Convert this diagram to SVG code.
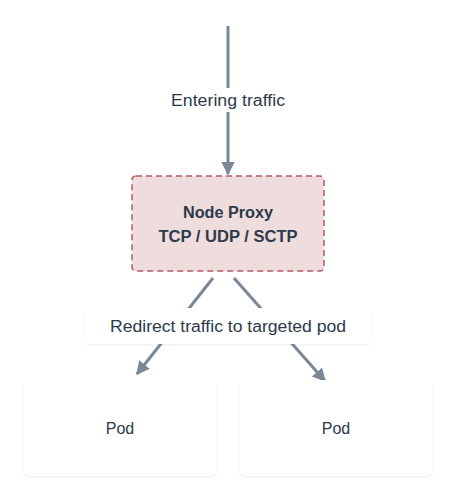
<svg xmlns="http://www.w3.org/2000/svg" width="456" height="500" viewBox="0 0 456 500">
<defs>
<marker id="arr" viewBox="0 0 10 10" refX="9" refY="5" markerWidth="4.5" markerHeight="4.5" orient="auto" markerUnits="strokeWidth">
<path d="M0,0 L10,5 L0,10 z" fill="#7a8794"/>
</marker>
<filter id="sh" x="-10%" y="-20%" width="120%" height="140%">
<feDropShadow dx="0" dy="1" stdDeviation="1.2" flood-color="#000" flood-opacity="0.07"/>
</filter>
</defs>
<style>
.t{font-family:"Liberation Sans","DejaVu Sans",sans-serif;fill:#2c3a4a;text-anchor:middle;font-size:16px}
.b{font-weight:bold}
.ln{stroke:#7a8794;stroke-width:3;fill:none}
.card{fill:#ffffff;filter:url(#sh)}
</style>
<rect width="456" height="500" fill="#ffffff"/>
<g id="connectors">
<line class="ln" x1="228" y1="26" x2="228" y2="88"/>
<line class="ln" x1="228" y1="112" x2="228" y2="174" marker-end="url(#arr)"/>
<line class="ln" x1="213" y1="278" x2="137" y2="374" marker-end="url(#arr)"/>
<line class="ln" x1="234" y1="278" x2="325" y2="381" marker-end="url(#arr)"/>
</g>
<g id="label-entering">
<text class="t" x="228" y="106" textLength="114" lengthAdjust="spacingAndGlyphs">Entering traffic</text>
</g>
<g id="node-proxy">
<rect x="132" y="176" width="192" height="95" rx="4" fill="#efdcdc" stroke="#b35b5b" stroke-width="1.5" stroke-dasharray="6,4"/>
<text class="t b" x="228" y="218" textLength="90" lengthAdjust="spacingAndGlyphs">Node Proxy</text>
<text class="t b" x="228" y="242" textLength="139" lengthAdjust="spacingAndGlyphs">TCP / UDP / SCTP</text>
</g>
<g id="label-redirect">
<rect class="card" x="84" y="308" width="288" height="36" rx="6"/>
<text class="t" x="228" y="332" textLength="236" lengthAdjust="spacingAndGlyphs">Redirect traffic to targeted pod</text>
</g>
<g id="pod-left">
<rect class="card" x="24" y="380" width="192" height="96" rx="6"/>
<text class="t" x="120" y="434">Pod</text>
</g>
<g id="pod-right">
<rect class="card" x="240" y="380" width="192" height="96" rx="6"/>
<text class="t" x="336" y="434">Pod</text>
</g>
</svg>
